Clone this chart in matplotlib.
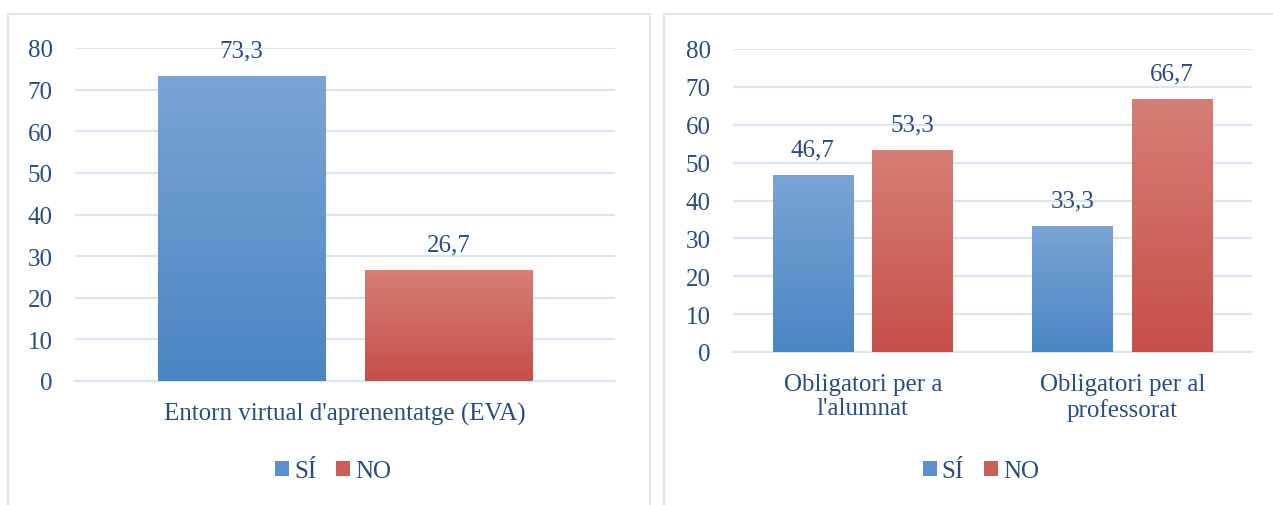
import numpy as np
import matplotlib
matplotlib.use('Agg')
import matplotlib.pyplot as plt
from matplotlib.colors import LinearSegmentedColormap
from matplotlib.patches import Rectangle, Patch

# data
series = ['SÍ', 'NO']
left_categories = ["Entorn virtual d'aprenentatge (EVA)"]
left_values = {'SÍ': [73.3], 'NO': [26.7]}
right_categories = ['Obligatori per a\nl\'alumnat', 'Obligatori per al\nprofessorat']
right_values = {'SÍ': [46.7, 33.3], 'NO': [53.3, 66.7]}
y_ticks = [0, 10, 20, 30, 40, 50, 60, 70, 80]

TEXT = '#284E7F'
GRID = '#D9E5F3'
FS = 18
gradients = {
    'SÍ': ('#7AA4D4', '#4A86C4'),
    'NO': ('#D67E76', '#C64F49'),
}
legend_colors = {'SÍ': '#5A91CC', 'NO': '#CC5E57'}

plt.rcParams['font.family'] = ['Liberation Serif', 'DejaVu Serif']

W, H = 1273, 506
fig = plt.figure(figsize=(W / 100, H / 100), dpi=100)


def fig_rect(x0, y0, x1, y1):
    # pixel box (top-left origin) -> figure fraction rect
    return [x0 / W, 1 - y1 / H, (x1 - x0) / W, (y1 - y0) / H]


def draw_panel(rect, categories, values, legend_x):
    ax = fig.add_axes(rect)
    x = np.arange(len(categories))
    width = 0.31
    offsets = {'SÍ': -0.192, 'NO': 0.192}
    for name in series:
        bars = ax.bar(x + offsets[name], values[name], width, color=legend_colors[name], zorder=2)
        cmap = LinearSegmentedColormap.from_list(name, [gradients[name][1], gradients[name][0]])
        grad = np.linspace(1, 0, 256).reshape(-1, 1)
        for patch, val in zip(bars.patches, values[name]):
            bx, bw = patch.get_x(), patch.get_width()
            im = ax.imshow(grad, cmap=cmap, extent=[bx, bx + bw, 0, val],
                           aspect='auto', zorder=3, vmin=0, vmax=1)
            im.set_clip_path(patch)
            ax.annotate(f'{val:.1f}'.replace('.', ','), (bx + bw / 2, val),
                        xytext=(0, 14), textcoords='offset points',
                        ha='center', va='baseline', fontsize=FS, color=TEXT)
    ax.set_xlim(-0.5, len(categories) - 0.5)
    ax.set_ylim(0, 80)
    ax.set_yticks(y_ticks)
    ax.set_xticks(x)
    ax.set_xticklabels(categories, linespacing=1.15)
    ax.tick_params(axis='y', length=0, pad=16, labelsize=FS, labelcolor=TEXT)
    ax.tick_params(axis='x', length=0, pad=15, labelsize=FS, labelcolor=TEXT)
    ax.grid(axis='y', color=GRID, linewidth=1.6, zorder=0)
    ax.set_axisbelow(True)
    for side in ['top', 'right', 'left']:
        ax.spines[side].set_visible(False)
    ax.spines['bottom'].set_color(GRID)
    ax.spines['bottom'].set_linewidth(1.6)

    handles = [Patch(facecolor=legend_colors[n], edgecolor='none') for n in series]
    fig.legend(handles, series, loc='center', bbox_to_anchor=(legend_x / W, 1 - 472 / H),
               ncol=2, frameon=False, fontsize=FS, labelcolor=TEXT,
               handlelength=0.55, handleheight=0.55, handletextpad=0.2, columnspacing=0.8)
    return ax


draw_panel(fig_rect(75, 49, 615, 382), left_categories, left_values, 333)
draw_panel(fig_rect(733, 50, 1252, 353), right_categories, right_values, 981)

# panel borders
fig.add_artist(Rectangle((8 / W, -0.1), (650 - 8) / W, 1.1 - 15 / H, transform=fig.transFigure,
                         fill=False, edgecolor='#DCE6F2', linewidth=1.5))
fig.add_artist(Rectangle((664 / W, -0.1), 0.5, 1.1 - 15 / H, transform=fig.transFigure,
                         fill=False, edgecolor='#DCE6F2', linewidth=1.5))

fig.savefig('out.png', dpi=100)
